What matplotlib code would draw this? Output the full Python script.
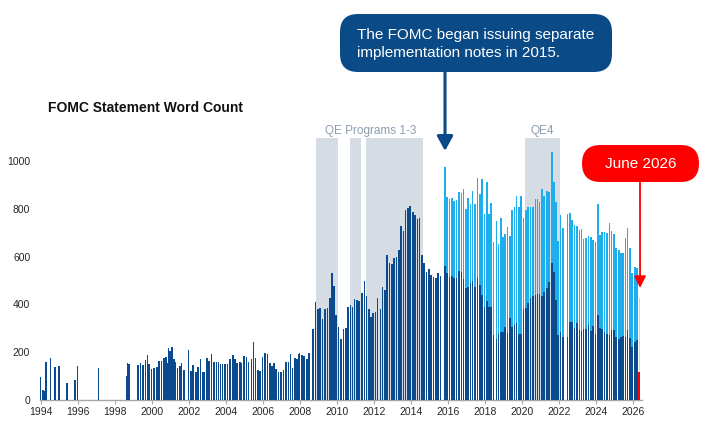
import pandas as pd
import matplotlib
matplotlib.use("Agg")
import matplotlib.pyplot as plt
from matplotlib.patches import FancyBboxPatch
from matplotlib.transforms import IdentityTransform

plt.rcParams['font.family'] = ['Liberation Sans', 'DejaVu Sans']

# ---------------- data ----------------
stmt_dates = [
    "1994-02-04", "1994-03-22", "1994-04-18", "1994-05-17", "1994-08-16", "1994-11-15",
    "1995-02-01", "1995-07-06", "1995-12-19", "1996-01-31", "1997-03-25",
    "1998-09-29", "1998-10-15", "1998-11-17",
    "1999-05-18", "1999-06-30", "1999-08-24", "1999-10-05", "1999-11-16", "1999-12-21",
    "2000-02-02", "2000-03-21", "2000-05-16", "2000-06-28", "2000-08-22", "2000-10-03", "2000-11-15", "2000-12-19",
    "2001-01-03", "2001-01-31", "2001-03-20", "2001-04-18", "2001-05-15", "2001-06-27", "2001-08-21", "2001-09-17", "2001-11-06",
    "2002-01-30", "2002-03-19", "2002-05-07", "2002-06-26", "2002-08-13", "2002-09-24", "2002-11-06", "2002-12-10",
    "2003-01-29", "2003-03-18", "2003-05-06", "2003-06-25", "2003-08-12", "2003-09-16", "2003-10-28", "2003-12-09",
    "2004-01-28", "2004-03-16", "2004-05-04", "2004-06-30", "2004-08-10", "2004-09-21", "2004-11-10", "2004-12-14",
    "2005-02-02", "2005-03-22", "2005-05-03", "2005-06-30", "2005-08-09", "2005-09-20", "2005-11-01", "2005-12-13",
    "2006-01-31", "2006-03-28", "2006-05-10", "2006-06-29", "2006-08-08", "2006-09-20", "2006-10-25", "2006-12-12",
    "2007-01-31", "2007-03-21", "2007-05-09", "2007-06-28", "2007-08-07", "2007-09-18", "2007-10-31", "2007-12-11",
    "2008-01-22", "2008-01-30", "2008-03-18", "2008-04-30", "2008-06-25", "2008-08-05", "2008-10-29", "2008-12-16",
    "2009-01-28", "2009-03-18", "2009-04-29", "2009-06-24", "2009-08-12", "2009-09-23", "2009-11-04", "2009-12-16",
    "2010-01-27", "2010-03-16", "2010-04-28", "2010-06-23", "2010-08-10", "2010-09-21", "2010-11-03", "2010-12-14",
    "2011-01-26", "2011-03-15", "2011-04-27", "2011-06-22", "2011-08-09", "2011-09-21", "2011-11-02", "2011-12-13",
    "2012-01-25", "2012-03-13", "2012-04-25", "2012-06-20", "2012-08-01", "2012-09-13", "2012-10-24", "2012-12-12",
    "2013-01-30", "2013-03-20", "2013-05-01", "2013-06-19", "2013-07-31", "2013-09-18", "2013-10-30", "2013-12-18",
    "2014-01-29", "2014-03-19", "2014-04-30", "2014-06-18", "2014-07-30", "2014-09-17", "2014-10-29", "2014-12-17",
    "2015-01-28", "2015-03-18", "2015-04-29", "2015-06-17", "2015-07-29", "2015-09-17", "2015-12-16",
    "2016-01-27", "2016-03-16", "2016-04-27", "2016-06-15", "2016-07-27", "2016-09-21", "2016-11-02", "2016-12-14",
    "2017-02-01", "2017-03-15", "2017-05-03", "2017-06-14", "2017-07-26", "2017-09-20", "2017-11-01", "2017-12-13",
    "2018-01-31", "2018-03-21", "2018-05-02", "2018-06-13", "2018-08-01", "2018-09-26", "2018-11-08", "2018-12-19",
    "2019-01-30", "2019-03-20", "2019-05-01", "2019-06-19", "2019-07-31", "2019-09-18", "2019-10-30", "2019-12-11",
    "2020-01-29", "2020-03-15", "2020-04-29", "2020-06-10", "2020-07-29", "2020-09-16", "2020-11-05", "2020-12-16",
    "2021-01-27", "2021-03-17", "2021-04-28", "2021-06-16", "2021-07-28", "2021-09-22", "2021-11-03", "2021-12-15",
    "2022-01-26", "2022-03-16", "2022-05-04", "2022-07-27", "2022-09-21", "2022-11-02", "2022-12-14",
    "2023-02-01", "2023-03-22", "2023-05-03", "2023-06-14", "2023-07-26", "2023-09-20", "2023-11-01", "2023-12-13",
    "2024-01-31", "2024-03-20", "2024-05-01", "2024-06-12", "2024-07-31", "2024-09-18", "2024-11-07", "2024-12-18",
    "2025-01-29", "2025-03-19", "2025-05-07", "2025-06-18", "2025-07-30", "2025-09-17", "2025-10-29", "2025-12-10",
    "2026-01-28", "2026-03-18", "2026-04-29",
]
stmt_words = [
    97, 40, 37, 160, 177, 139,
    142, 70, 84, 142, 135,
    100, 156, 149,
    146, 153, 148, 167, 188, 150,
    128, 132, 139, 163, 164, 176, 178, 155,
    216, 206, 220, 170, 160, 132, 142, 156, 126,
    209, 123, 146, 119, 137, 171, 119, 119,
    174, 164, 191, 160, 158, 158, 150, 150,
    150, 150, 171, 188, 171, 153, 158, 156,
    186, 179, 158, 171, 241, 174, 124, 121,
    178, 195, 191, 153, 142, 156, 128, 119,
    119, 126, 160, 160, 192, 135, 175, 170,
    191, 195, 188, 184, 170, 195, 296, 411,
    380, 384, 338, 380, 384, 425, 530, 477,
    356, 307, 254, 296, 300, 388, 397, 391,
    421, 418, 414, 449, 498, 435, 381, 349,
    363, 370, 425, 381, 474, 460, 607, 575,
    569, 596, 600, 628, 729, 708, 795, 802,
    812, 788, 774, 756, 760, 607, 572, 537,
    548, 523, 513, 509, 530, 519, 561,
    530, 516, 519, 509, 509, 541, 537, 505,
    467, 471, 488, 498, 474, 509, 481, 439,
    388, 416, 391, 388, 272, 254, 275, 286,
    286, 304, 282, 342, 307, 314, 321, 276,
    276, 379, 384, 404, 428, 436, 439, 443,
    443, 435, 452, 467, 495, 575, 536, 418,
    272, 285, 265, 265, 328, 328, 300,
    321, 293, 290, 296, 296, 314, 290, 308,
    276, 356, 300, 296, 285, 276, 272, 293,
    293, 265, 254, 265, 268, 265, 293, 258,
    223, 244, 250,
]
# statement + implementation note (from Dec 2015)
total_start = "2015-12-16"
total_words = [
    973,
    851, 840, 844, 833, 837, 869, 865, 883,
    799, 844, 820, 876, 820, 927, 860, 923,
    777, 913, 777, 825, 662, 749, 653, 760,
    681, 695, 723, 686, 795, 806, 853, 806,
    853, 760, 795, 809, 806, 806, 840, 840,
    830, 881, 853, 874, 872, 1039, 913, 830,
    667, 774, 718, 778, 784, 753, 732,
    728, 711, 714, 672, 676, 686, 683, 669,
    662, 820, 690, 704, 704, 700, 739, 707,
    693, 634, 627, 617, 615, 679, 721, 634,
    530, 558, 551,
]
latest_date = "2026-06-17"
latest_stmt = 116
latest_total = 425

qe_periods = [(2008.86, 2010.05), (2010.74, 2011.34), (2011.60, 2014.68)]
qe4_period = (2020.16, 2022.07)
shade_top = 1095
y_ticks = [0, 200, 400, 600, 800, 1000]
x_ticks = list(range(1994, 2027, 2))

# ---------------- style ----------------
DARK = "#0B4A8C"
LIGHT = "#1EAEEE"
GRAY = "#D6DCE3"
NAVY = "#0A4A87"
RED = "#FF0000"
PINK = "#F7C4C4"
DATE_SHIFT = -0.1
BAR_W = 0.088
PX_PER_YEAR = 18.5
AX_W_PX = 601.5


def to_dec(s):
    d = pd.Timestamp(s)
    ndays = 366 if d.is_leap_year else 365
    return d.year + (d.dayofyear - 1) / ndays + DATE_SHIFT


stmt_x = [to_dec(s) for s in stmt_dates]
i0 = stmt_dates.index(total_start)
total_x = stmt_x[i0:]
latest_x = to_dec(latest_date)

fig = plt.figure(figsize=(7.2, 4.42), dpi=100)
ax = fig.add_axes([40 / 720, 42 / 442, AX_W_PX / 720, 286.8 / 442])
ymax = 1200
ax.set_ylim(0, ymax)
x_left = 1994 - 0.7 / PX_PER_YEAR
ax.set_xlim(x_left, x_left + AX_W_PX / PX_PER_YEAR)

for a, b in qe_periods + [qe4_period]:
    ax.axvspan(a, b, ymin=0, ymax=shade_top / ymax, color=GRAY, lw=0, zorder=1)

ax.bar(total_x, total_words, width=BAR_W, color=LIGHT, lw=0, zorder=2)
ax.bar(stmt_x, stmt_words, width=BAR_W, color=DARK, lw=0, zorder=3)
ax.bar([latest_x], [latest_total], width=0.07, color=PINK, lw=0, zorder=2)
ax.bar([latest_x], [latest_stmt], width=0.11, color=RED, lw=0, zorder=3)

ax.text((qe_periods[0][0] + qe_periods[2][1]) / 2 + 0.05, 1127, "QE Programs 1-3",
        ha="center", va="center", color="#8C9CAF", fontsize=8.5)
ax.text(sum(qe4_period) / 2, 1127, "QE4", ha="center", va="center",
        color="#8C9CAF", fontsize=8.5)

for side in ["top", "right", "left"]:
    ax.spines[side].set_visible(False)
ax.spines["bottom"].set_color("#A6A6A6")
ax.spines["bottom"].set_linewidth(1.0)
ax.set_xticks(x_ticks)
ax.set_xticklabels([str(t) for t in x_ticks])
ax.set_yticks(y_ticks)
ax.set_yticklabels([str(t) for t in y_ticks])
ax.tick_params(axis="x", length=3, color="#A6A6A6", labelsize=7.5, pad=2,
               labelcolor="#262626")
ax.tick_params(axis="y", length=0, labelsize=7.5, pad=7, labelcolor="#262626")
ax.set_facecolor("none")

fig.text(48 / 720, 1 - 108 / 442, "FOMC Statement Word Count", fontsize=10,
         fontweight="bold", va="center", ha="left", color="#111111")

# blue callout
box = FancyBboxPatch((340, 442 - 72), 272, 58,
                     boxstyle="round,pad=0,rounding_size=18",
                     transform=IdentityTransform(), fc=NAVY, ec="none")
fig.add_artist(box)
fig.text(357 / 720, 1 - 39 / 442, "The FOMC began issuing separate",
         color="white", fontsize=11, va="baseline", ha="left")
fig.text(357 / 720, 1 - 57.5 / 442, "implementation notes in 2015.",
         color="white", fontsize=11, va="baseline", ha="left")
ax.annotate("", xy=(total_x[0], 1042), xycoords="data",
            xytext=(445, 442 - 72), textcoords="figure pixels",
            arrowprops=dict(arrowstyle="-|>,head_length=0.55,head_width=0.3",
                            color=NAVY, lw=2.2, shrinkA=0, shrinkB=0,
                            mutation_scale=16),
            annotation_clip=False)

# red callout
pill = FancyBboxPatch((582, 442 - 182), 117, 37,
                      boxstyle="round,pad=0,rounding_size=18.5",
                      transform=IdentityTransform(), fc=RED, ec="none")
fig.add_artist(pill)
fig.text(640.5 / 720, 1 - 163.5 / 442, "June 2026", color="white", fontsize=11,
         va="center", ha="center")
ax.annotate("", xy=(latest_x + 0.04, 469), xycoords="data",
            xytext=(640, 442 - 182), textcoords="figure pixels",
            arrowprops=dict(arrowstyle="-|>,head_length=0.5,head_width=0.25",
                            color=RED, lw=1.3, shrinkA=0, shrinkB=0,
                            mutation_scale=14),
            annotation_clip=False)

fig.savefig("out.png", dpi=100)
